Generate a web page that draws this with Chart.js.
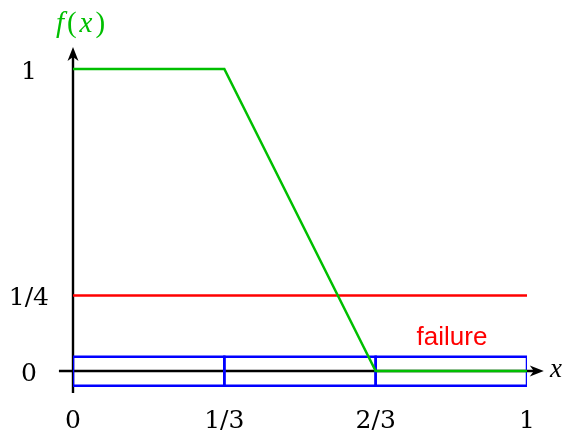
<!DOCTYPE html>
<html><head><meta charset="utf-8">
<script src="https://cdn.jsdelivr.net/npm/chart.js@4"></script>
<style>html,body{margin:0;padding:0;background:#fff}#wrap{width:566px;height:433px}</style>
</head><body><div id="wrap"><canvas id="c" width="566" height="433"></canvas></div>
<script>
const xPoints = [0, 1/3, 2/3, 1];
const fValues = [1, 1, 0, 0];
const failureX = [0, 1];
const failureValues = [0.25, 0.25];
const boxEdges = [0, 1/3, 2/3, 1];
const boxTop = 0.047, boxBottom = -0.049;
const xTickValues = [0, 1/3, 2/3, 1];
const xTickLabels = ['0', '1/3', '2/3', '1'];
const yTickValues = [0, 0.25, 1];
const yTickLabels = ['0', '1/4', '1'];

const GREEN = '#00bf00', RED = '#ff0000', BLUE = '#0000ff';
const SERIF = "'DejaVu Serif', 'Liberation Serif', serif";
const SERIF2 = "'Liberation Serif', serif";

const boxDatasets = [];
for (let i = 0; i < boxEdges.length - 1; i++) {
  const a = boxEdges[i], b = boxEdges[i + 1];
  boxDatasets.push({
    data: [{x:a,y:boxTop},{x:b,y:boxTop},{x:b,y:boxBottom},{x:a,y:boxBottom},{x:a,y:boxTop}],
    borderColor: BLUE, borderWidth: 2.5, showLine: true, pointRadius: 0,
    borderJoinStyle: 'miter', borderCapStyle: 'square', fill: false, order: 2
  });
}

function labelFor(values, labels, v) {
  for (let i = 0; i < values.length; i++) if (Math.abs(values[i] - v) < 1e-9) return labels[i];
  return '';
}

const axesPlugin = {
  id: 'axesArrows',
  beforeDatasetsDraw(chart) {
    const ctx = chart.ctx, xs = chart.scales.x, ys = chart.scales.y;
    const x0 = xs.getPixelForValue(0), y0 = ys.getPixelForValue(0);
    ctx.save();
    ctx.strokeStyle = '#000'; ctx.fillStyle = '#000'; ctx.lineWidth = 2.4;
    const xl = xs.getPixelForValue(-0.031), xt = xs.getPixelForValue(1.037);
    ctx.beginPath(); ctx.moveTo(xl, y0); ctx.lineTo(xt - 6, y0); ctx.stroke();
    ctx.beginPath(); ctx.moveTo(xt, y0); ctx.lineTo(xt - 14, y0 - 5.5); ctx.lineTo(xt - 10, y0); ctx.lineTo(xt - 14, y0 + 5.5); ctx.closePath(); ctx.fill();
    const yb = ys.getPixelForValue(-0.073), ytp = ys.getPixelForValue(1.073);
    ctx.beginPath(); ctx.moveTo(x0, yb); ctx.lineTo(x0, ytp + 6); ctx.stroke();
    ctx.beginPath(); ctx.moveTo(x0, ytp); ctx.lineTo(x0 - 5.5, ytp + 14); ctx.lineTo(x0, ytp + 10); ctx.lineTo(x0 + 5.5, ytp + 14); ctx.closePath(); ctx.fill();
    ctx.restore();
  },
  afterDraw(chart) {
    const ctx = chart.ctx, ys = chart.scales.y;
    ctx.save();
    ctx.fillStyle = GREEN; ctx.textBaseline = 'alphabetic';
    const parts = [['f', true], ['(', false], ['x', true], [')', false]];
    const fs = 29;
    const font = p => (p[1] ? 'italic ' : '') + fs + 'px ' + SERIF2;
    const gap = 3;
    let total = 0;
    parts.forEach(p => { ctx.font = font(p); total += ctx.measureText(p[0]).width + gap; });
    total -= gap;
    let px = 80.5 - total / 2;
    parts.forEach(p => { ctx.font = font(p); ctx.fillText(p[0], px, 32); px += ctx.measureText(p[0]).width + gap; });
    ctx.fillStyle = '#000'; ctx.font = 'italic 27px ' + SERIF2; ctx.textAlign = 'left';
    ctx.fillText('x', 550, ys.getPixelForValue(0) + 6);
    ctx.fillStyle = RED; ctx.font = "26px 'Liberation Sans', Arial, sans-serif"; ctx.textAlign = 'center';
    ctx.fillText('failure', 452, 345);
    ctx.restore();
  }
};

new Chart(document.getElementById('c'), {
  type: 'scatter',
  data: {
    datasets: [
      ...boxDatasets,
      { data: failureX.map((x, i) => ({x, y: failureValues[i]})), borderColor: RED, borderWidth: 2.5, showLine: true, pointRadius: 0, order: 1 },
      { data: xPoints.map((x, i) => ({x, y: fValues[i]})), borderColor: GREEN, borderWidth: 2.5, showLine: true, pointRadius: 0, order: 0 }
    ]
  },
  options: {
    responsive: false, animation: false, devicePixelRatio: 1,
    layout: { padding: { left: 0, right: 39, top: 46.35, bottom: 0 } },
    plugins: { legend: { display: false }, tooltip: { enabled: false } },
    elements: { line: { tension: 0 } },
    scales: {
      x: {
        type: 'linear', min: 0, max: 1,
        grid: { display: false, drawTicks: false }, border: { display: false },
        afterBuildTicks(s) { s.ticks = xTickValues.map(v => ({ value: v })); },
        afterFit(s) { s.height = 39.35; },
        ticks: { padding: 13, color: '#000', font: { family: SERIF, size: 25 }, maxRotation: 0, autoSkip: false,
          callback: v => labelFor(xTickValues, xTickLabels, v) }
      },
      y: {
        type: 'linear', min: -0.075, max: 1.075,
        grid: { display: false, drawTicks: false }, border: { display: false },
        afterBuildTicks(s) { s.ticks = yTickValues.map(v => ({ value: v })); },
        afterFit(s) { s.width = 73; },
        ticks: { padding: 24, crossAlign: 'center', labelOffset: 3, color: '#000', font: { family: SERIF, size: 25 }, autoSkip: false,
          callback: v => labelFor(yTickValues, yTickLabels, v) }
      }
    }
  },
  plugins: [axesPlugin]
});
</script></body></html>
